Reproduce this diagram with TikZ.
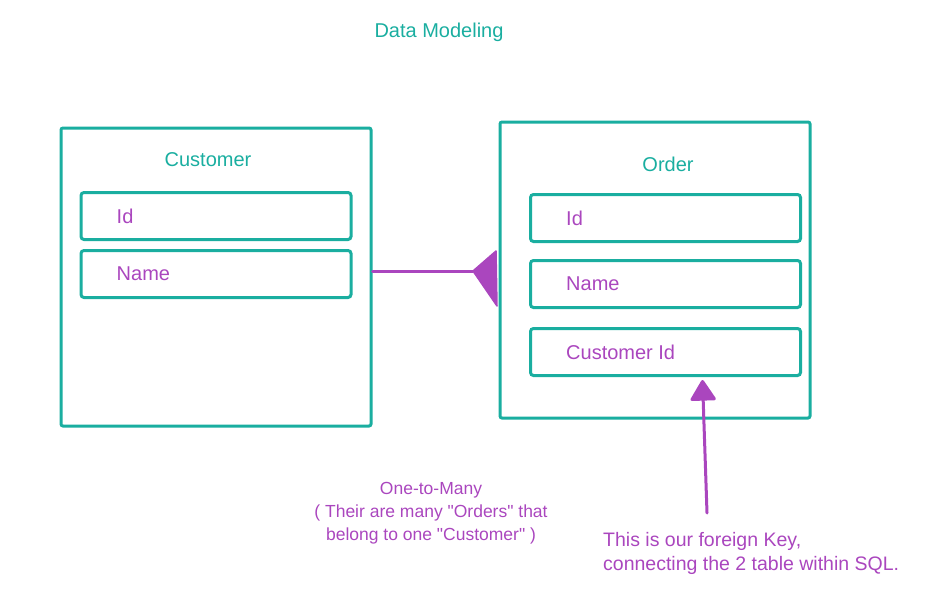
\documentclass[tikz,border=0pt]{standalone}
\usepackage{fontspec}
\setmainfont{Liberation Sans}
\usetikzlibrary{arrows.meta}
\definecolor{tblteal}{RGB}{26,174,160}
\definecolor{relpurple}{RGB}{170,70,190}

\begin{document}
\begin{tikzpicture}[x=1pt, y=-1pt,
      tbl/.style={draw=tblteal, line width=3pt, rounded corners=2pt,
                  minimum width=310pt, inner sep=0pt},
      fld/.style={draw=tblteal, line width=3pt, rounded corners=3pt,
                  minimum width=270pt, minimum height=47pt, inner sep=0pt},
      fldtxt/.style={text=relpurple, font=\fontsize{20}{24}\selectfont,
                  anchor=west, inner sep=0pt},
      ttl/.style={text=tblteal, font=\fontsize{20}{24}\selectfont, inner sep=0pt},
      note/.style={text=relpurple, inner sep=0pt},
      rel/.style={draw=relpurple, line width=3pt, line cap=round, line join=round},
    ]
    \useasboundingbox (0,0) rectangle (936,608);
    %% title
    \node[ttl] (title) at (439,32) {Data Modeling};
    %% customer table
    \node[tbl, minimum height=298pt] (ctbl) at (216,277) {};
    \node[ttl] (cname) at (208,160) {Customer};
    \node[fld] (cid) at (216,216) {};
    \node[fld] (cnm) at (216,274) {};
    \node[fldtxt] (cidt) at ([xshift=37pt]cid.west) {Id};
    \node[fldtxt] (cnmt) at ([xshift=37pt]cnm.west) {Name};
    %% order table
    \node[tbl, minimum height=296pt] (otbl) at (655,270) {};
    \node[ttl] (oname) at (668,164) {Order};
    \foreach \n/\y/\t in {oid/218/Id, onm/284/Name, ocid/352/Customer Id}{
      \node[fld] (\n) at (665.5,\y) {};
      \node[fldtxt] (\n t) at ([xshift=37pt]\n.west) {\t};
    }
    %% one-to-many relation (crow's foot)
    \coordinate (crow) at (473,271);
    \draw[rel] (crow -| ctbl.east) -- (crow);
    \filldraw[rel, fill=relpurple, line width=1.5pt]
      (crow) -- ++(23,-20) -- ++(1,55) -- cycle;
    \node[note, font=\fontsize{17.5}{23}\selectfont, align=center, anchor=north]
      (relnote) at (431,482)
      {One-to-Many\\( Their are many \textquotedbl Orders\textquotedbl{} that\\
       belong to one \textquotedbl Customer\textquotedbl{} )};
    %% foreign key
    \coordinate (fktail) at (707,513);
    \draw[rel, -{Triangle[width=27pt, length=22pt, round]}]
      (fktail) -- ([xshift=37pt, yshift=-3pt]ocid.south);
    \node[note, font=\fontsize{19.5}{24}\selectfont, align=left, anchor=north west]
      (fknote) at (603,532)
      {This is our foreign Key,\\connecting the 2 table within SQL.};
\end{tikzpicture}
\end{document}
